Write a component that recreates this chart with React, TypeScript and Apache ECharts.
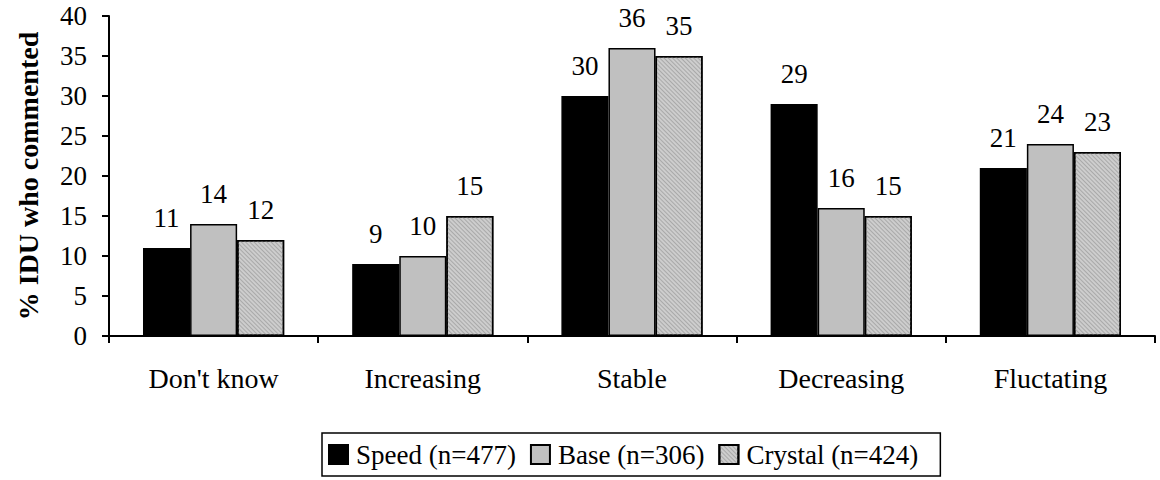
import React, { useEffect, useRef } from "react";
import * as echarts from "echarts";

const categories = ["Don't know", "Increasing", "Stable", "Decreasing", "Fluctating"];
const speed = [11, 9, 30, 29, 21];
const base = [14, 10, 36, 16, 24];
const crystal = [12, 15, 35, 15, 23];
const seriesNames = ["Speed (n=477)", "Base (n=306)", "Crystal (n=424)"];

const FONT = "'Liberation Serif', 'DejaVu Serif', serif";

export default function App() {
  const ref = useRef<HTMLDivElement>(null);
  useEffect(() => {
    document.body.style.margin = "0";
    const chart = echarts.init(ref.current!, null, { renderer: "svg" });
    const label = {
      show: true,
      position: "top" as const,
      distance: 17,
      color: "#000",
      fontFamily: FONT,
      fontSize: 27,
    };
    const mk = (name: string, data: number[], color: string, decal?: any) => ({
      name,
      type: "bar",
      data,
      barGap: "0%",
      barCategoryGap: "32.5%",
      itemStyle: { color, borderColor: "#000", borderWidth: 1.5, decal },
      label,
    });
    chart.setOption({
      animation: false,
      aria: { enabled: false },
      textStyle: { fontFamily: FONT, color: "#000" },
      grid: { left: 109, right: 5, top: 16, bottom: 144 },
      legend: {
        top: 433,
        left: 322,
        data: seriesNames,
        icon: "rect",
        itemWidth: 19,
        itemHeight: 19,
        itemGap: 14,
        padding: [8, 22, 8, 6],
        borderColor: "#000",
        borderWidth: 1.5,
        borderRadius: 0,
        textStyle: { fontFamily: FONT, fontSize: 27, color: "#000", padding: [0, 0, 0, 3] },
      },
      xAxis: {
        type: "category",
        data: categories,
        axisLine: { lineStyle: { color: "#000", width: 2 } },
        axisTick: { show: true, length: 7, lineStyle: { color: "#000", width: 2 } },
        axisLabel: { fontFamily: FONT, fontSize: 28, color: "#000", margin: 28 },
      },
      yAxis: {
        type: "value",
        min: 0,
        max: 40,
        interval: 5,
        name: "% IDU who commented",
        nameLocation: "middle",
        nameGap: 67,
        nameTextStyle: { fontFamily: FONT, fontSize: 28, fontWeight: "bold", color: "#000" },
        splitLine: { show: false },
        axisLine: { show: true, lineStyle: { color: "#000", width: 2 } },
        axisTick: { show: true, length: 7, lineStyle: { color: "#000", width: 2 } },
        axisLabel: { fontFamily: FONT, fontSize: 27, color: "#000", margin: 22 },
      },
      series: [
        mk(seriesNames[0], speed, "#000000"),
        mk(seriesNames[1], base, "#c0c0c0"),
        mk(seriesNames[2], crystal, "#cdcdcd", {
          symbol: "rect",
          symbolSize: 1,
          dashArrayX: [1, 0],
          dashArrayY: [1, 2],
          rotation: Math.PI / 4,
          color: "#a9a9a9",
        }),
      ],
    });
    return () => chart.dispose();
  }, []);
  return <div ref={ref} style={{ width: 1160, height: 480 }} />;
}
